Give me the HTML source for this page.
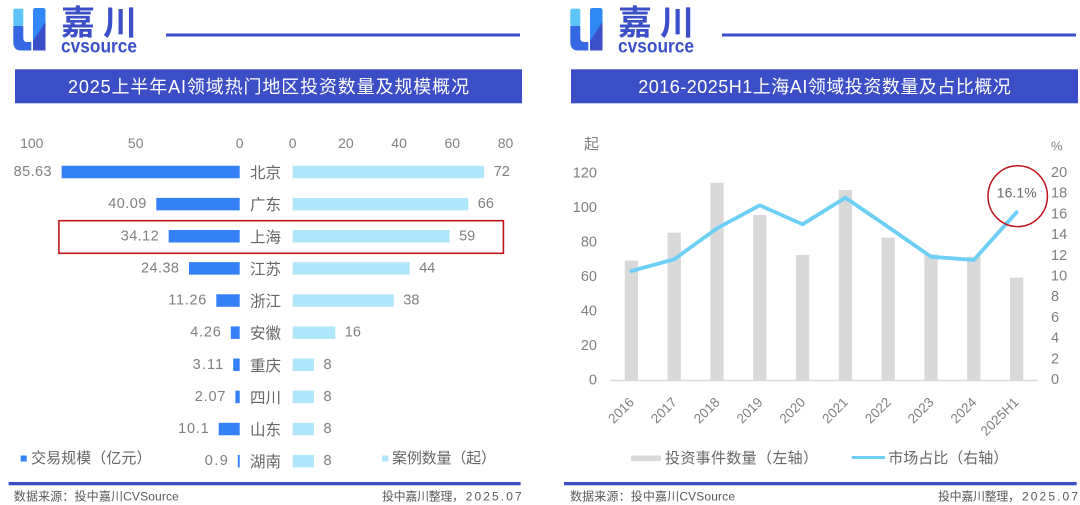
<!DOCTYPE html>
<html><head><meta charset="utf-8"><style>
html,body{margin:0;padding:0;background:#fff;}
svg{display:block;}
text{font-family:"Liberation Sans","Noto Sans CJK SC",sans-serif;}
</style></head><body>
<svg width="1080" height="505" viewBox="0 0 1080 505" xmlns="http://www.w3.org/2000/svg">
<defs>
<g id="logo">
<rect x="13.3" y="8.6" width="10" height="17.5" rx="2" fill="#5ec4f7"/>
<path d="M13.3 26 H23.3 V38 Q23.3 42 27 42 H31.3 V50.5 H21 Q13.3 50.5 13.3 42 Z" fill="#3768e4"/>
<path d="M33 10.5 Q33 8 35.5 8 H43 Q45.5 8 45.5 10.5 V50.5 H33 Z" fill="#2f88f6"/>
<path d="M33 41 L45.5 22 V50.5 H33 Z" fill="#3b4fc9"/>
<text x="61" y="34.5" font-size="34" font-weight="bold" fill="#3b50c8" textLength="76" lengthAdjust="spacing">嘉川</text>
<text x="61" y="52.7" font-size="19" font-weight="bold" fill="#3b50c8" textLength="76" lengthAdjust="spacingAndGlyphs">cvsource</text>
</g>
</defs>
<rect width="1080" height="505" fill="#fff"/>

<!-- ===== LEFT PANEL ===== -->
<use href="#logo"/>
<rect x="166" y="33.5" width="354" height="3" fill="#3b4fc9"/>
<rect x="15" y="69.3" width="507" height="34" fill="#3c4ec6"/>
<text x="268.5" y="87" font-size="18" fill="#fff" text-anchor="middle" dominant-baseline="central" textLength="401" lengthAdjust="spacing">2025上半年AI领域热门地区投资数量及规模概况</text>

<g font-size="14" fill="#808080" text-anchor="middle" dominant-baseline="central">
<text x="31.8" y="143">100</text>
<text x="135.7" y="143">50</text>
<text x="239.7" y="143">0</text>
<text x="292.7" y="143">0</text>
<text x="345.9" y="143">20</text>
<text x="399.1" y="143">40</text>
<text x="452.3" y="143">60</text>
<text x="505.5" y="143">80</text>
</g>

<!-- red highlight box -->
<rect x="58.9" y="220.7" width="444.5" height="32.6" fill="none" stroke="#c0141c" stroke-width="1.6"/>

<!-- blue bars -->
<g fill="#3380f7">
<rect x="61.6" y="165.75" width="178.1" height="12.5"/>
<rect x="156.3" y="197.88" width="83.4" height="12.5"/>
<rect x="168.7" y="230.01" width="71.0" height="12.5"/>
<rect x="189.0" y="262.14" width="50.7" height="12.5"/>
<rect x="216.3" y="294.27" width="23.4" height="12.5"/>
<rect x="230.8" y="326.4" width="8.9" height="12.5"/>
<rect x="233.2" y="358.53" width="6.5" height="12.5"/>
<rect x="235.4" y="390.66" width="4.3" height="12.5"/>
<rect x="218.7" y="422.79" width="21.0" height="12.5"/>
<rect x="237.8" y="454.92" width="1.9" height="12.5"/>
</g>
<!-- light bars -->
<g fill="#b0e6f9">
<rect x="292.7" y="165.75" width="191.5" height="12.5"/>
<rect x="292.7" y="197.88" width="175.6" height="12.5"/>
<rect x="292.7" y="230.01" width="156.9" height="12.5"/>
<rect x="292.7" y="262.14" width="117.0" height="12.5"/>
<rect x="292.7" y="294.27" width="101.1" height="12.5"/>
<rect x="292.7" y="326.4" width="42.6" height="12.5"/>
<rect x="292.7" y="358.53" width="21.3" height="12.5"/>
<rect x="292.7" y="390.66" width="21.3" height="12.5"/>
<rect x="292.7" y="422.79" width="21.3" height="12.5"/>
<rect x="292.7" y="454.92" width="21.3" height="12.5"/>
</g>
<!-- left values -->
<g font-size="14.5" fill="#7f7f7f" text-anchor="end" dominant-baseline="central">
<text x="51.6" y="172" textLength="38" lengthAdjust="spacing">85.63</text>
<text x="146.3" y="204.13" textLength="38" lengthAdjust="spacing">40.09</text>
<text x="158.7" y="236.26" textLength="38" lengthAdjust="spacing">34.12</text>
<text x="179.0" y="268.39" textLength="38" lengthAdjust="spacing">24.38</text>
<text x="206.3" y="300.52" textLength="38" lengthAdjust="spacing">11.26</text>
<text x="220.8" y="332.65" textLength="30.6" lengthAdjust="spacing">4.26</text>
<text x="223.2" y="364.78" textLength="30.6" lengthAdjust="spacing">3.11</text>
<text x="225.4" y="396.91" textLength="30.6" lengthAdjust="spacing">2.07</text>
<text x="208.7" y="429.04" textLength="30.6" lengthAdjust="spacing">10.1</text>
<text x="227.8" y="461.17" textLength="23" lengthAdjust="spacing">0.9</text>
</g>
<!-- region labels -->
<g font-size="15.5" fill="#666" text-anchor="middle" dominant-baseline="central">
<text x="265.5" y="173.5">北京</text>
<text x="265.5" y="205.6">广东</text>
<text x="265.5" y="237.8">上海</text>
<text x="265.5" y="269.9">江苏</text>
<text x="265.5" y="302">浙江</text>
<text x="265.5" y="334.2">安徽</text>
<text x="265.5" y="366.3">重庆</text>
<text x="265.5" y="398.4">四川</text>
<text x="265.5" y="430.5">山东</text>
<text x="265.5" y="462.7">湖南</text>
</g>
<!-- right values -->
<g font-size="14.5" fill="#7f7f7f" dominant-baseline="central">
<text x="493.7" y="172">72</text>
<text x="477.8" y="204.13">66</text>
<text x="459.1" y="236.26">59</text>
<text x="419.2" y="268.39">44</text>
<text x="403.3" y="300.52">38</text>
<text x="344.8" y="332.65">16</text>
<text x="323.5" y="364.78">8</text>
<text x="323.5" y="396.91">8</text>
<text x="323.5" y="429.04">8</text>
<text x="323.5" y="461.17">8</text>
</g>
<!-- left legend -->
<rect x="20.7" y="455.5" width="6" height="6" fill="#3380f7"/>
<text x="31" y="458.5" font-size="15" fill="#666" dominant-baseline="central" textLength="120.5" lengthAdjust="spacing">交易规模（亿元）</text>
<rect x="382" y="455.5" width="6.4" height="6" fill="#b0e6f9"/>
<text x="392" y="458.5" font-size="15" fill="#666" dominant-baseline="central" textLength="104" lengthAdjust="spacing">案例数量（起）</text>

<!-- left footer -->
<rect x="8.6" y="482" width="512" height="3.3" fill="#3b4fc9"/>
<g font-size="12" fill="#595959" dominant-baseline="central">
<text x="13.8" y="496.7" textLength="165" lengthAdjust="spacing">数据来源：投中嘉川CVSource</text>
<text x="382" y="496.7" textLength="82" lengthAdjust="spacing">投中嘉川整理，</text>
<text x="521.7" y="496.7" text-anchor="end" textLength="56" lengthAdjust="spacing">2025.07</text>
</g>

<!-- ===== RIGHT PANEL ===== -->
<use href="#logo" x="557"/>
<rect x="722" y="33.5" width="354" height="3" fill="#3b4fc9"/>
<rect x="571" y="69.3" width="507" height="34" fill="#3c4ec6"/>
<text x="824.5" y="87" font-size="18" fill="#fff" text-anchor="middle" dominant-baseline="central" textLength="372.6" lengthAdjust="spacing">2016-2025H1上海AI领域投资数量及占比概况</text>

<text x="584" y="144.6" font-size="15" fill="#7f7f7f" dominant-baseline="central">起</text>
<text x="1051" y="146" font-size="13" fill="#7f7f7f" dominant-baseline="central">%</text>

<!-- left axis labels -->
<g font-size="14.5" fill="#7f7f7f" text-anchor="end" dominant-baseline="central">
<text x="597" y="380.7">0</text>
<text x="597" y="346.2">20</text>
<text x="597" y="311.7">40</text>
<text x="597" y="277.2">60</text>
<text x="597" y="242.7">80</text>
<text x="597" y="208.2">100</text>
<text x="597" y="173.7">120</text>
</g>
<!-- right axis labels -->
<g font-size="14.5" fill="#7f7f7f" dominant-baseline="central">
<text x="1051" y="380">0</text>
<text x="1051" y="359.3">2</text>
<text x="1051" y="338.6">4</text>
<text x="1051" y="317.9">6</text>
<text x="1051" y="297.2">8</text>
<text x="1051" y="276.5">10</text>
<text x="1051" y="255.8">12</text>
<text x="1051" y="235.1">14</text>
<text x="1051" y="214.4">16</text>
<text x="1051" y="193.7">18</text>
<text x="1051" y="173">20</text>
</g>

<!-- gray bars -->
<g fill="#d9d9d9">
<rect x="624.75" y="260.7" width="13.3" height="119.3"/>
<rect x="667.55" y="232.7" width="13.3" height="147.3"/>
<rect x="710.35" y="182.7" width="13.3" height="197.3"/>
<rect x="753.15" y="215" width="13.3" height="165"/>
<rect x="795.95" y="255" width="13.3" height="125"/>
<rect x="838.75" y="190" width="13.3" height="190"/>
<rect x="881.55" y="237.7" width="13.3" height="142.3"/>
<rect x="924.35" y="254.3" width="13.3" height="125.7"/>
<rect x="967.15" y="256.7" width="13.3" height="123.3"/>
<rect x="1009.95" y="277.7" width="13.3" height="102.3"/>
</g>
<line x1="610" y1="380.5" x2="1038" y2="380.5" stroke="#d9d9d9" stroke-width="1.5"/>

<!-- market share line -->
<polyline points="631.4,271 674.2,259.3 717,228.3 759.8,205.3 802.6,224.3 845.4,197.7 888.2,227 931,256.7 973.8,260 1016.6,212.3" fill="none" stroke="#6dcff6" stroke-width="3.8" stroke-linejoin="round" stroke-linecap="round"/>

<!-- highlight circle -->
<ellipse cx="1017.7" cy="196.2" rx="29.7" ry="30.4" fill="none" stroke="#c0141c" stroke-width="1.5"/>
<text x="996.7" y="192.3" font-size="14" fill="#666" dominant-baseline="central" textLength="40" lengthAdjust="spacing">16.1%</text>

<!-- x labels -->
<g font-size="13.5" fill="#7f7f7f" text-anchor="end">
<text transform="translate(635,403) rotate(-45)">2016</text>
<text transform="translate(677.8,403) rotate(-45)">2017</text>
<text transform="translate(720.6,403) rotate(-45)">2018</text>
<text transform="translate(763.4,403) rotate(-45)">2019</text>
<text transform="translate(806.2,403) rotate(-45)">2020</text>
<text transform="translate(849,403) rotate(-45)">2021</text>
<text transform="translate(891.8,403) rotate(-45)">2022</text>
<text transform="translate(934.6,403) rotate(-45)">2023</text>
<text transform="translate(977.4,403) rotate(-45)">2024</text>
<text transform="translate(1019.6,403) rotate(-45)">2025H1</text>
</g>

<!-- right legend -->
<rect x="631" y="455.5" width="30" height="5.5" fill="#d9d9d9"/>
<text x="665" y="458.3" font-size="15" fill="#666" dominant-baseline="central" textLength="153" lengthAdjust="spacing">投资事件数量（左轴）</text>
<line x1="851.7" y1="457.5" x2="885" y2="457.5" stroke="#6dcff6" stroke-width="3"/>
<text x="888.3" y="458.3" font-size="15" fill="#666" dominant-baseline="central" textLength="120" lengthAdjust="spacing">市场占比（右轴）</text>

<!-- right footer -->
<rect x="564" y="482" width="512.7" height="3.3" fill="#3b4fc9"/>
<g font-size="12" fill="#595959" dominant-baseline="central">
<text x="570" y="496.7" textLength="165" lengthAdjust="spacing">数据来源：投中嘉川CVSource</text>
<text x="938" y="496.7" textLength="82" lengthAdjust="spacing">投中嘉川整理，</text>
<text x="1078" y="496.7" text-anchor="end" textLength="56" lengthAdjust="spacing">2025.07</text>
</g>
</svg>
</body></html>
